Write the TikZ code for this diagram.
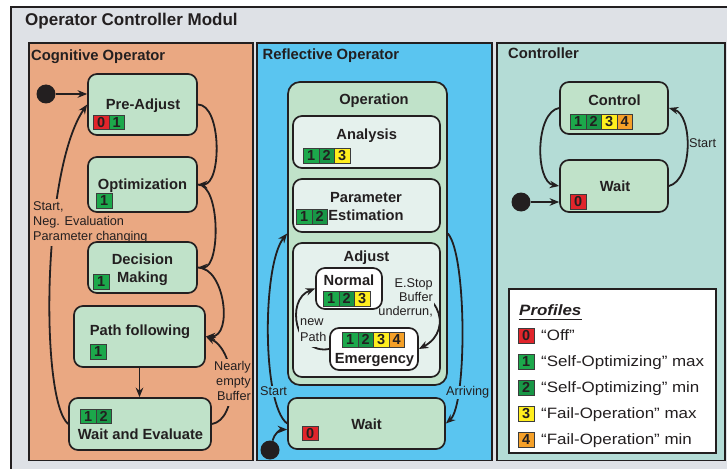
\documentclass[tikz,border=0pt]{standalone}
\usepackage{fontspec}
\setmainfont{Liberation Sans}
\newfontfamily\legendfont[FakeStretch=1.13]{Liberation Sans}
\usetikzlibrary{arrows.meta}
\pgfdeclarelayer{bg}
\pgfdeclarelayer{edges}
\pgfsetlayers{bg,edges,main}
\definecolor{ink}{RGB}{35,31,32}
\definecolor{outerc}{RGB}{222,225,230}
\definecolor{cogc}{RGB}{234,168,130}
\definecolor{reflc}{RGB}{90,197,240}
\definecolor{ctrlc}{RGB}{180,220,214}
\definecolor{stc}{RGB}{192,226,201}
\definecolor{palec}{RGB}{229,241,237}
\definecolor{bdc}{RGB}{60,60,60}
\definecolor{p0}{RGB}{225,37,43}
\definecolor{p1}{RGB}{28,168,75}
\definecolor{p2}{RGB}{24,150,70}
\definecolor{p3}{RGB}{255,238,30}
\definecolor{p4}{RGB}{245,160,40}
\newcommand{\stbox}[6]{\node[#6, minimum width={(#4)-(#2)}, minimum height={(#5)-(#3)}] (#1) at ({((#2)+(#4))/2},{((#3)+(#5))/2}) {};}
\newcommand{\bdg}[4]{\node[badge, fill=p#4] (#1) at (#2,#3) {#4};}
\begin{document}
\begin{tikzpicture}[x=1pt,y=-1pt,
  stnode/.style={draw=ink, line width=1.7pt, fill=stc, rounded corners=9pt, inner sep=0pt},
  panel/.style={draw=ink, line width=1.6pt, inner sep=0pt},
  badge/.style={draw=bdc, line width=0.6pt, minimum width=15.5pt, minimum height=14.5pt, inner sep=0pt, anchor=north west, text=ink, font=\bfseries\fontsize{14.5}{14.5}\selectfont},
  stlabel/.style={inner sep=0pt, text=ink, font=\bfseries\fontsize{14.7}{18}\selectfont},
  elabel/.style={inner sep=1pt, text=ink, font=\fontsize{12.7}{15}\selectfont},
  conn/.style={draw=ink, line width=1.8pt, -{Stealth[length=9.5pt,width=7.5pt]}},
  initdot/.style={circle, fill=ink, minimum size=19pt, inner sep=0pt},
  leg/.style={inner sep=0pt, text=ink, font=\legendfont\fontsize{15}{15}\selectfont, anchor=base west}]
\useasboundingbox (0,0) rectangle (727,468);

\begin{pgfonlayer}{bg}
\fill[white] (0,0) rectangle (727,468);
\stbox{outer}{11}{7}{745}{480}{panel, fill=outerc}
\stbox{cog}{29}{43}{253}{460.5}{panel, fill=cogc}
\stbox{refl}{257}{43}{492}{460.5}{panel, fill=reflc}
\stbox{ctrl}{497}{43}{725}{460.5}{panel, fill=ctrlc}
\stbox{op}{288}{82}{447}{385}{stnode, rounded corners=12pt}
\stbox{ana}{293}{116}{440}{168}{stnode, fill=palec}
\stbox{par}{293}{179}{440}{232}{stnode, fill=palec}
\stbox{adj}{293}{243}{440}{377}{stnode, fill=palec}
\end{pgfonlayer}

% titles
\node[inner sep=0pt, text=ink, font=\bfseries\fontsize{17}{17}\selectfont, anchor=base west] (title) at (25,26) {Operator Controller Modul};
\node[inner sep=0pt, text=ink, font=\bfseries\fontsize{14.8}{15}\selectfont, anchor=base west] (cogT) at (31,61) {Cognitive Operator};
\node[inner sep=0pt, text=ink, font=\bfseries\fontsize{14.8}{15}\selectfont, anchor=base west] (reflT) at (262.5,60) {Reflective Operator};
\node[inner sep=0pt, text=ink, font=\bfseries\fontsize{14.8}{15}\selectfont, anchor=base west] (ctrlT) at (508,59) {Controller};

% cognitive operator states
\stbox{pre}{88}{74}{197}{135}{stnode}
\stbox{opt}{88}{157}{197}{212}{stnode}
\stbox{dec}{88}{242}{197}{293}{stnode}
\stbox{pth}{74}{306}{205}{367}{stnode}
\stbox{wae}{69}{398}{211}{450}{stnode}
\node[initdot] (dot1) at (46,94) {};

\node[stlabel, anchor=base] (preT) at (143,110) {Pre-Adjust};
\node[stlabel, anchor=base] (optT) at (142.5,189.5) {Optimization};
\node[stlabel, anchor=base] (decT) at (142.5,282.5) {\begin{tabular}[b]{@{}c@{}}Decision\\Making\end{tabular}};
\node[stlabel, anchor=base] (pthT) at (140,335) {Path following};
\node[stlabel, anchor=base] (waeT) at (140.5,439) {Wait and Evaluate};

\bdg{pa0}{93}{114.5}{0}
\bdg{pa1}{108.5}{114.5}{1}
\bdg{ob1}{96}{193}{1}
\bdg{db1}{93}{274}{1}
\bdg{pb1}{90}{344}{1}
\bdg{wb1}{80}{408.5}{1}
\bdg{wb2}{95.5}{408.5}{2}

% reflective operator states
\stbox{nor}{316}{268}{382}{309}{stnode, fill=white}
\stbox{emg}{330}{328}{418}{370}{stnode, fill=white}
\stbox{wr}{288}{398}{445}{449}{stnode}
\node[initdot] (dot2) at (270,450) {};

\node[stlabel, anchor=base] (opT) at (374,104) {Operation};
\node[stlabel, anchor=base] (anaT) at (366.7,139.3) {Analysis};
\node[stlabel, anchor=base] (parT) at (366,220.7) {\fontsize{14.7}{18.4}\selectfont\begin{tabular}[b]{@{}c@{}}Parameter\\Estimation\end{tabular}};
\node[stlabel, anchor=base] (adjT) at (366.5,261.7) {Adjust};
\node[stlabel, anchor=base] (norT) at (349,285) {Normal};
\node[stlabel, anchor=base] (emgT) at (374.5,363.3) {Emergency};
\node[stlabel, anchor=base] (wrT) at (366.5,429) {Wait};

\bdg{ab1}{303}{148}{1}
\bdg{ab2}{318.5}{148}{2}
\bdg{ab3}{334}{148}{3}
\bdg{qb1}{296}{209}{1}
\bdg{qb2}{311.5}{209}{2}
\bdg{nb1}{323}{291}{1}
\bdg{nb2}{338.5}{291}{2}
\bdg{nb3}{354}{291}{3}
\bdg{eb1}{342}{332}{1}
\bdg{eb2}{357.5}{332}{2}
\bdg{eb3}{373}{332}{3}
\bdg{eb4}{388.5}{332}{4}
\bdg{rb0}{302}{425.5}{0}

% controller states
\stbox{ctl}{560}{82}{668}{134}{stnode}
\stbox{wc}{560}{160}{668}{212}{stnode}
\node[initdot] (dot3) at (521,202) {};
\node[stlabel, anchor=base] (ctlT) at (614.5,105.5) {Control};
\node[stlabel, anchor=base] (wcT) at (615,191.7) {Wait};
\bdg{cb1}{570}{114}{1}
\bdg{cb2}{585.5}{114}{2}
\bdg{cb3}{601}{114}{3}
\bdg{cb4}{616.5}{114}{4}
\bdg{kb0}{570}{194}{0}

% legend
\stbox{legend}{509}{289}{716}{453}{panel, fill=white}
\node[inner sep=0pt, text=ink, font=\legendfont\bfseries\itshape\fontsize{15}{15}\selectfont, anchor=base west] (prof) at (519,315) {Profiles};
\draw[ink, line width=1.5pt] ([yshift=-4.5pt]prof.base west) -- ([yshift=-4.5pt]prof.base east);
\bdg{lb0}{518}{328}{0}
\bdg{lb1}{518}{354}{1}
\bdg{lb2}{518}{380}{2}
\bdg{lb3}{518}{406}{3}
\bdg{lb4}{518}{432}{4}
\node[leg] (lt0) at (541,340.5) {“Off”};
\node[leg] (lt1) at (541,366.5) {“Self-Optimizing” max};
\node[leg] (lt2) at (541,392.5) {“Self-Optimizing” min};
\node[leg] (lt3) at (541,418.5) {“Fail-Operation” max};
\node[leg] (lt4) at (541,444.5) {“Fail-Operation” min};

% transitions
\begin{pgfonlayer}{edges}
% cognitive
\draw[conn] (dot1) -- (dot1 -| pre.west);
\draw[conn] (pre.east) to[out=0,in=0,looseness=0.77] (opt.east);
\draw[conn] (opt.east) to[out=0,in=0,looseness=0.7] (dec.east);
\draw[conn] (dec.east) to[out=0,in=0,looseness=1.0] (pth.east);
\draw[conn] (pth.south) -- (pth.south |- wae.north);
\draw[conn] (wae.east) .. controls (238,420) and (238,352) .. (pth.east);
\node[elabel, fill=cogc, anchor=base east] (nebL) at (252,400.7) {\begin{tabular}[b]{@{}r@{}}Nearly\\empty\\Buffer\end{tabular}};
\draw[conn] (wae.west) .. controls (40,400) and (42,170) .. (pre.west);
\node[elabel, fill=cogc, anchor=base west] (startL) at (32,240) {\begin{tabular}[b]{@{}l@{}}Start,\\Neg. Evaluation\\Parameter changing\end{tabular}};
% reflective
\draw[conn] (dot2) to[out=75,in=180] ([yshift=-6pt]wr.west);
\draw[conn] (wr.west) .. controls (262,405) and (262,265) .. (op.west);
\node[elabel, fill=reflc, anchor=base west] (startR) at (259,395.7) {Start};
\draw[conn] (op.east) .. controls (467,255) and (467,405) .. (wr.east);
\node[elabel, fill=reflc, anchor=base west] (arrL) at (445,395.7) {Arriving};
\draw[conn] (nor.east) .. controls (440,280) and (455,330) .. (emg.east);
\node[elabel, fill=palec, anchor=base east, font=\fontsize{12.7}{14.2}\selectfont] (esL) at (434,315.7) {\begin{tabular}[b]{@{}r@{}}E.Stop\\Buffer\\underrun,\end{tabular}};
\draw[conn] (emg.west) .. controls (295,355) and (285,300) .. (nor.west);
\node[elabel, fill=palec, anchor=base west, font=\fontsize{12.7}{16}\selectfont] (npL) at (299,341) {\begin{tabular}[b]{@{}l@{}}new\\Path\end{tabular}};
% controller
\draw[conn] (dot3) -- (dot3 -| wc.west);
\draw[conn] (ctl.west) .. controls (535,112) and (535,182) .. (wc.west);
\draw[conn] (wc.east) .. controls (693,180) and (693,115) .. (ctl.east);
\node[elabel, anchor=base west] (startC) at (688,147.3) {Start};
\end{pgfonlayer}
\end{tikzpicture}
\end{document}
